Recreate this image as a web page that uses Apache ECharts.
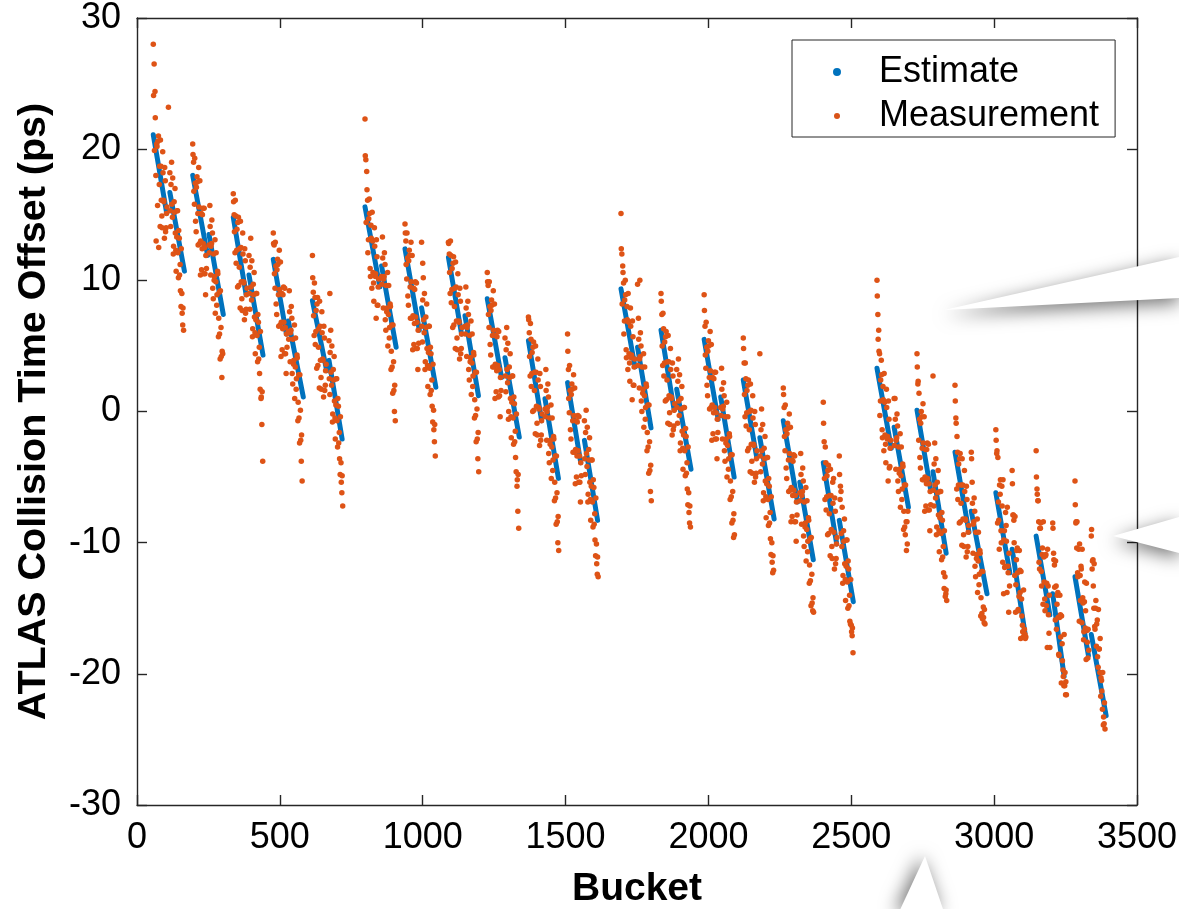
<!DOCTYPE html>
<html><head><meta charset="utf-8">
<script src="https://cdn.jsdelivr.net/npm/echarts@6/dist/echarts.min.js"></script>
<style>html,body{margin:0;padding:0;background:#fff}#c{width:1179px;height:909px}</style>
</head><body><div id="c"></div><script>
// ---- data ----
const xTicks = [0, 500, 1000, 1500, 2000, 2500, 3000, 3500];
const yTicks = [-30, -20, -10, 0, 10, 20, 30];
// Estimate: straight segments (one per batch)
const estStartBucket = [57,115,195,252,337,392,477,530,614,672, 798,856,938,996,1090,1148,1226,1288,1370,1428,1507,1566, 1694,1752,1834,1889,1985,2043,2122,2180,2262,2320,2402,2458, 2590,2650,2730,2786,2863,2920,3006,3063,3147,3205,3283,3340];
const estEndBucket   = [104,166,247,302,382,441,523,582,664,718, 850,907,988,1046,1136,1195,1276,1338,1416,1475,1553,1612, 1743,1799,1880,1939,2034,2090,2169,2230,2312,2367,2449,2507, 2640,2700,2778,2832,2912,2975,3055,3108,3195,3245,3330,3392];
const estStartPs = [21.1,16.7,18.0,13.5,14.8,10.4,11.6,6.9,8.45,3.9, 15.6,11.1,12.4,7.9,11.75,7.3,8.6,4.1,5.4,0.97,2.2,-2.2, 9.35,4.9,6.2,1.7,5.5,1.1,2.4,-2.0,-0.7,-5.4,-3.9,-8.3, 3.3,-1.2,0.1,-4.6,-3.1,-7.6,-6.2,-10.5,-9.5,-13.9,-12.6,-17.0];
const estEndPs   = [15.1,10.7,11.9,7.4,8.9,4.3,5.9,1.1,3.1,-2.1, 9.5,4.9,6.2,1.85,5.9,1.2,2.6,-1.95,-0.7,-5.1,-3.9,-8.3, 3.4,-1.25,0.1,-4.4,-0.6,-5.0,-3.5,-8.2,-6.9,-11.3,-10.1,-14.5, -2.8,-7.3,-6.0,-10.8,-9.2,-13.9,-12.3,-16.9,-15.5,-20.2,-18.6,-23.2];
// Measurement: per batch, one value every measStep buckets starting at the batch start bucket (+ offset)
const measStep = 3;
const measOffsetA = 0;
const measValuesA = [
[28.0,26.5,24.4,18.0,20.4,15.7,21.0,17.3,14.1,18.7,14.9,19.8,16.1,13.2,17.6,14.0,15.6],
[18.2,14.1,19.0,14.8,12.0,16.0,17.0,12.3,13.3,15.3,10.2,13.2,11.2,8.0,9.0,6.6,6.2],
[20.4,19.0,15.8,17.4,13.7,17.9,15.1,18.6,12.8,10.4,15.1,12.4,15.5,10.5,12.5,8.9,10.9],
[12.7,15.7,10.4,12.8,13.6,8.6,10.0,13.1,9.9,8.1,10.7,5.7,9.1,4.0,6.4,2.6,4.4],
[16.6,15.0,12.1,14.9,12.3,9.5,14.8,11.0,7.9,12.5,8.6,13.6,9.9,7.0,11.5,7.8,9.4],
[11.9,7.8,13.2,8.5,5.7,9.7,10.6,6.0,7.0,9.0,3.8,6.8,4.9,1.7,1.0,-1.0,-3.8],
[13.6,12.7,9.4,11.1,7.4,11.6,8.9,12.3,6.6,4.2,9.0,6.3,9.5,4.4,6.4,2.9,4.9],
[6.1,9.2,3.8,6.2,7.1,2.1,3.6,6.6,3.4,1.7,4.3,-0.7,2.8,-2.4,0.1,-3.8,-5.3],
[11.9,9.1,5.8,8.7,6.1,3.3,8.7,4.9,1.8,6.5,2.6,7.6,4.0,1.1,5.6,2.0,3.6],
[5.4,1.3,6.2,2.0,-0.8,3.2,4.2,-0.5,0.5,2.5,-2.7,0.4,-1.6,-4.8,-3.9,-6.2,-7.2],
[22.3,19.2,18.3,16.1,13.1,16.2,10.9,14.2,9.4,13.0,9.8,14.0,10.3,7.1,11.8,8.1,10.1],
[10.3,13.3,7.9,10.3,11.2,6.2,7.6,10.6,7.4,5.6,8.2,3.2,6.6,1.4,3.8,0.0,-0.7],
[14.3,13.0,10.1,11.7,8.1,12.3,9.5,12.9,7.1,4.7,9.4,6.7,9.9,4.8,6.8,3.2,5.2],
[12.9,5.3,10.2,6.0,3.2,7.2,8.2,3.5,4.5,6.5,1.3,4.4,2.4,-0.8,0.1,-2.3,-3.4],
[12.9,12.0,9.0,11.9,9.3,6.4,11.8,8.0,4.8,9.5,5.6,10.5,6.9,4.0,8.4,4.8,6.4],
[6.5,9.5,4.2,6.6,7.4,2.4,3.8,6.9,3.7,1.9,4.5,-0.5,3.0,-2.3,0.2,-3.6,-4.6],
[10.6,9.6,6.4,8.0,4.3,8.5,5.8,9.2,3.4,1.0,5.8,3.1,6.2,1.1,3.2,-0.4,1.6],
[5.6,1.5,6.4,2.2,-0.6,3.4,4.4,-0.4,0.7,2.7,-2.5,0.6,-1.5,-4.6,-5.7,-7.6,-8.9],
[7.2,6.0,2.7,5.5,2.9,0.0,5.3,1.6,-1.7,3.0,-0.9,4.0,0.3,-2.6,1.9,-1.8,-0.2],
[0.2,3.2,-2.2,0.3,1.1,-3.9,-2.5,0.5,-2.7,-4.5,-1.9,-6.8,-3.4,-8.6,-6.2,-10.0,-10.6],
[5.9,3.2,-0.1,1.6,-2.1,2.1,-0.7,2.8,-3.1,-5.5,-0.7,-3.4,-0.3,-5.4,-3.4,-6.9,-4.9],
[-0.7,-4.8,0.1,-4.2,-6.9,-2.9,-2.0,-6.7,-5.7,-3.7,-8.8,-5.8,-7.8,-11.0,-10.1,-12.4,-12.6],
[15.1,12.0,11.1,9.8,6.9,10.0,4.7,8.0,3.2,6.8,3.7,7.9,4.1,0.9,5.7,2.0,4.0],
[9.7,7.1,1.8,4.2,5.0,0.0,1.4,4.4,1.2,-0.6,2.1,-3.0,0.5,-4.7,-2.3,-6.1,-6.8],
[9.0,7.4,3.5,6.3,3.7,0.8,6.1,2.4,-0.9,3.8,-0.1,4.8,1.1,-1.8,2.7,-1.1,0.6],
[3.2,-0.9,4.0,-0.3,-3.0,1.0,1.9,-2.8,-1.8,0.3,-4.9,-1.9,-3.9,-7.1,-6.2,-8.5,-8.8],
[8.9,6.5,3.3,4.9,1.2,5.4,2.6,6.1,0.3,-2.2,2.6,-0.1,3.0,-2.1,-0.1,-3.6,-1.6],
[0.3,3.3,-2.1,0.4,1.2,-3.8,-2.4,0.7,-2.6,-4.4,-1.7,-6.7,-3.3,-8.5,-6.1,-9.6,-9.4],
[5.6,3.7,-0.4,2.5,-0.1,-3.0,2.4,-1.4,-4.6,0.1,-3.8,1.2,-2.5,-5.4,-1.0,-4.7,-3.0],
[4.4,-4.6,0.2,-4.0,-6.8,-2.8,-1.9,-6.5,-5.5,-3.5,-8.7,-5.7,-7.7,-10.9,-10.0,-12.3,-12.1],
[1.8,0.3,-3.0,-1.4,-5.1,-0.9,-3.7,-0.2,-6.0,-8.4,-3.7,-6.4,-3.3,-8.4,-6.4,-9.9,-7.9],
[-6.2,-3.2,-8.6,-6.1,-5.3,-10.3,-8.8,-5.8,-9.0,-10.7,-8.1,-13.1,-9.7,-14.8,-12.4,-15.2,-15.3],
[0.7,-2.3,-6.7,-3.9,-6.5,-9.4,-4.1,-7.8,-11.0,-6.4,-10.3,-5.4,-5.1,-12.0,-7.6,-11.2,-9.6],
[-3.4,-6.7,-6.1,-10.3,-13.1,-9.1,-8.2,-12.8,-11.8,-9.8,-15.0,-12.0,-14.0,-16.2,-16.3,-17.1,-18.4],
[10.0,7.4,6.2,4.4,0.8,3.9,-1.4,1.9,-3.0,0.7,-2.5,1.7,-2.1,-5.3,-0.6,-4.2,-2.2],
[1.0,1.0,-4.4,-2.0,-1.1,-6.1,-4.7,-1.7,-4.9,-6.7,-4.0,-9.0,-5.6,-9.4,-8.4,-8.4,-7.6],
[4.4,2.1,-2.2,-0.6,-4.3,0.0,-2.8,0.6,-5.2,-7.6,-2.9,-5.5,-2.4,-7.5,-5.5,-9.1,-7.1],
[2.7,-7.2,-2.4,-6.6,-9.4,-5.4,-4.5,-9.1,-8.1,-6.1,-11.3,-8.3,-10.3,-13.5,-12.6,-13.9,-14.4],
[2.0,-0.5,-5.9,-3.1,-5.6,-8.5,-3.2,-7.0,-10.2,-5.6,-9.4,-4.5,-8.2,-11.1,-6.7,-10.3,-8.7],
[-3.1,-5.4,-10.8,-8.4,-7.6,-12.6,-11.2,-8.2,-11.4,-13.2,-10.6,-15.6,-12.2,-15.8,-14.9,-16.1,-16.2],
[-1.4,-3.2,-8.5,-6.9,-10.5,-6.3,-9.1,-5.7,-11.5,-13.9,-9.1,-11.8,-8.7,-13.8,-11.8,-15.3,-13.3],
[-4.5,-7.9,-8.3,-12.5,-15.3,-11.3,-10.4,-15.1,-14.1,-12.1,-17.3,-14.3,-16.3,-17.2,-16.9,-17.0,-17.2],
[-3.0,-5.9,-6.8,-8.4,-12.0,-8.9,-12.2,-10.9,-14.7,-11.1,-14.3,-11.0,-14.8,-18.0,-13.3,-16.9,-18.0],
[-8.5,-10.8,-11.7,-15.9,-13.3,-14.7,-13.8,-18.5,-15.7,-15.5,-20.7,-17.7,-19.7,-20.9,-20.9,-21.6,-21.6],
[-5.3,-8.5,-10.4,-12.3,-12.5,-16.0,-12.5,-11.8,-16.1,-14.2,-17.4,-14.5,-16.5,-18.9,-16.7,-18.8,-18.2],
[-9.5,-12.0,-11.3,-15.0,-16.4,-15.0,-17.9,-15.9,-19.5,-18.1,-19.9,-21.7,-20.5,-22.7,-23.9,-23.8,-24.2]
];
const measOffsetB = 1;
const measValuesB = [
[24.1,19.9,22.4,13.0,20.2,20.6,12.5,18.7,20.7,16.1,14.0,18.2,16.0,18.6,13.7,15.1],
[15.3,17.3,15.8,17.8,12.6,15.2,13.6,10.7,15.3,12.1,13.8,10.4,9.2,12.4,7.5,7.9],
[19.6,16.8,19.3,14.5,17.1,17.5,12.7,15.6,17.6,13.0,10.8,15.0,12.8,15.5,10.5,11.9],
[12.1,14.1,12.6,14.6,9.4,12.0,10.3,7.5,12.1,8.9,10.5,7.1,5.9,9.2,4.2,4.6],
[16.0,13.7,16.1,11.3,13.9,14.4,9.6,12.4,14.5,9.9,7.7,12.0,9.8,12.4,7.5,8.9],
[9.0,11.0,9.5,11.5,6.3,8.9,7.2,4.4,9.0,5.8,7.4,4.0,2.9,6.1,1.1,1.5],
[12.8,10.5,12.9,8.2,10.8,11.2,6.5,9.3,11.4,6.8,4.7,8.9,6.8,9.4,4.4,5.9],
[5.5,7.6,6.0,8.0,2.9,5.5,3.9,1.0,5.6,2.5,4.1,0.7,-0.5,2.8,-2.2,-1.8],
[10.2,7.3,9.8,5.1,7.7,8.2,3.5,6.3,8.4,3.9,1.7,6.0,3.9,6.5,1.6,3.1],
[2.5,4.5,3.0,5.0,-0.2,2.4,0.8,-2.1,2.5,-0.7,1.0,-2.4,-3.6,-0.4,-5.4,-4.9],
[19.5,14.4,16.9,12.1,14.7,15.1,10.3,13.2,15.2,10.6,8.4,12.6,10.5,13.1,8.1,9.5],
[9.7,11.7,10.1,12.1,7.0,9.6,7.9,5.0,9.6,6.4,8.0,4.6,3.4,6.6,1.6,2.0],
[13.6,11.2,13.6,8.8,11.5,11.9,7.1,9.9,11.9,7.3,5.1,9.3,7.2,9.8,4.8,6.2],
[6.5,8.5,7.0,9.0,3.8,6.4,4.8,1.9,6.5,3.3,4.9,1.6,0.4,3.6,-1.4,-1.0],
[12.8,10.6,13.0,8.3,10.9,11.3,6.6,9.4,11.4,6.9,4.7,8.9,6.8,9.4,4.4,5.9],
[5.9,7.9,6.4,8.4,3.2,5.8,4.1,1.3,5.9,2.7,4.3,0.9,-0.3,3.0,-2.1,-1.6],
[9.9,7.4,9.9,5.1,7.7,8.1,3.4,6.2,8.2,3.6,1.5,5.7,3.5,6.1,1.2,2.6],
[2.7,4.7,3.2,5.2,0.0,2.6,1.0,-2.0,2.7,-0.5,1.1,-2.3,-3.5,-0.2,-5.2,-4.8],
[7.0,4.2,6.7,1.9,4.5,4.9,0.1,3.0,5.0,0.4,-1.8,2.4,0.2,2.9,-2.2,-0.7],
[-0.4,1.6,0.0,2.1,-3.2,-0.5,-2.2,-5.1,-0.5,-3.7,-2.1,-5.4,-6.6,-3.4,-8.4,-8.0],
[4.6,1.0,3.5,-1.4,1.3,1.7,-3.1,-0.3,1.8,-2.9,-5.0,-0.8,-3.0,-0.4,-5.4,-3.9],
[-3.6,-1.6,-3.2,-1.2,-6.3,-3.7,-5.4,-8.3,-3.7,-6.9,-5.2,-8.6,-9.8,-6.6,-11.6,-11.1],
[12.4,8.2,10.6,5.9,8.5,8.9,4.1,7.0,9.0,4.4,2.3,6.5,4.3,6.9,2.0,3.4],
[3.5,5.5,4.0,6.0,0.8,3.4,1.7,-1.2,3.4,0.3,1.9,-1.6,-2.7,0.5,-4.5,-4.1],
[8.4,5.0,7.5,2.7,5.3,5.7,0.9,3.8,5.8,1.2,-1.0,3.2,1.0,3.7,-1.4,0.1],
[0.3,2.3,0.8,2.8,-2.4,0.2,-1.5,-4.4,0.3,-3.0,-1.3,-4.7,-5.9,-2.7,-7.7,-7.2],
[7.7,4.3,6.8,2.0,4.6,5.0,0.2,3.1,5.1,0.5,-1.7,2.5,0.3,3.0,-2.1,-0.6],
[-0.3,1.7,0.2,2.2,-3.0,-0.4,-2.1,-5.0,-0.4,-3.6,-1.9,-5.3,-6.5,-3.3,-8.3,-7.8],
[4.8,1.3,3.7,-1.1,1.6,2.0,-2.8,0.0,2.1,-2.5,-4.7,-0.5,-2.6,0.0,-5.0,-3.6],
[-3.4,-1.4,-3.0,-1.0,-6.2,-3.6,-5.3,-8.1,-3.5,-6.7,-5.1,-8.5,-9.7,-6.5,-11.5,-11.0],
[1.3,-1.9,0.5,-4.3,-1.7,-1.3,-6.1,-3.2,-1.2,-5.8,-8.0,-3.8,-6.0,-3.4,-8.4,-6.9],
[-6.8,-4.8,-6.4,-4.3,-9.5,-6.9,-8.5,-11.4,-6.8,-9.9,-8.3,-11.7,-12.9,-9.6,-14.6,-14.2],
[-0.9,-5.1,-2.7,-7.5,-4.9,-4.5,-9.3,-6.4,-4.4,-9.0,-11.2,-7.0,-9.2,-6.6,-11.6,-10.1],
[-4.8,-5.7,-9.3,-7.3,-12.5,-9.9,-11.6,-14.4,-9.8,-13.0,-11.4,-14.8,-16.0,-12.8,-16.8,-16.5],
[8.8,5.5,4.6,-0.3,2.4,2.8,-2.0,0.9,2.9,-1.8,-3.9,0.3,-1.9,0.8,-4.3,-2.8],
[-2.6,-0.6,-2.2,-0.2,-5.3,-2.7,-4.4,-7.3,-2.7,-5.9,-4.2,-7.6,-8.8,-5.6,-10.6,-10.1],
[3.4,2.3,1.4,-3.5,-0.9,-0.4,-5.2,-2.4,-0.4,-5.0,-7.2,-2.9,-5.1,-2.5,-7.5,-6.1],
[-6.0,-4.0,-5.6,-3.6,-8.8,-6.2,-7.9,-10.7,-6.1,-9.3,-7.7,-11.1,-12.3,-9.1,-14.1,-13.6],
[0.8,-0.9,-1.9,-6.7,-4.0,-3.6,-8.4,-5.6,-3.6,-8.2,-10.3,-6.1,-8.3,-5.7,-10.7,-9.2],
[-3.6,-7.0,-8.6,-6.6,-11.8,-9.2,-10.9,-13.8,-9.2,-12.4,-10.8,-14.2,-15.4,-12.2,-15.7,-15.1],
[-2.2,-3.0,-3.5,-8.3,-5.6,-5.2,-10.0,-7.2,-5.2,-9.8,-11.9,-7.7,-9.9,-7.3,-12.3,-10.8],
[-5.5,-7.9,-10.0,-8.0,-13.2,-10.6,-12.3,-15.2,-10.6,-13.8,-12.2,-15.6,-16.8,-13.6,-16.6,-17.3],
[-5.0,-6.3,-6.8,-11.5,-8.9,-8.5,-13.3,-10.4,-8.4,-13.0,-15.2,-10.9,-13.1,-10.5,-15.5,-14.0],
[-8.9,-11.3,-13.4,-11.4,-16.6,-14.0,-15.7,-18.6,-14.0,-17.2,-15.6,-19.0,-20.2,-17.0,-19.9,-20.6],
[-7.1,-8.4,-8.4,-12.6,-10.5,-10.1,-14.4,-12.0,-10.5,-14.6,-16.8,-13.0,-15.2,-13.1,-17.6,-16.6],
[-9.0,-11.4,-13.3,-11.6,-16.6,-14.4,-16.2,-18.7,-15.1,-18.1,-17.3,-20.3,-21.3,-19.9,-23.3,-22.2]
];
const extraMeasBucket = [110, 675, 1000, 1760];
const extraMeasPs = [23.2, 9.0, 11.3, 10.0];

// ---- build ----
const FONT = "'Liberation Sans', Arial, Helvetica, sans-serif";
const AX = '#262626';
const estimateLines = estStartBucket.map((b, i) => ({coords: [[b, estStartPs[i]], [estEndBucket[i], estEndPs[i]]]}));
const measurementPoints = [];
measValuesA.forEach((vals, s) => vals.forEach((v, i) => measurementPoints.push([estStartBucket[s] + measOffsetA + measStep * i, v])));
measValuesB.forEach((vals, s) => vals.forEach((v, i) => measurementPoints.push([estStartBucket[s] + measOffsetB + measStep * i, v])));
extraMeasBucket.forEach((b, i) => measurementPoints.push([b, extraMeasPs[i]]));

const xMin = xTicks[0], xMax = xTicks[xTicks.length - 1], xInt = xTicks[1] - xTicks[0];
const yMin = yTicks[0], yMax = yTicks[yTicks.length - 1], yInt = yTicks[1] - yTicks[0];

function axisBase(extra) {
  return Object.assign({
    type: 'value',
    axisLine: {show: true, onZero: false, lineStyle: {color: AX, width: 1.4}},
    axisTick: {show: true, inside: true, length: 10, lineStyle: {color: AX, width: 1.4}},
    splitLine: {show: false}
  }, extra);
}

const chart = echarts.init(document.getElementById('c'), null, {renderer: 'canvas'});
chart.setOption({
  animation: false,
  backgroundColor: '#fff',
  grid: {left: 137, right: 42, top: 18, bottom: 104, containLabel: false, outerBoundsMode: 'none'},
  xAxis: [
    axisBase({min: xMin, max: xMax, interval: xInt, position: 'bottom',
      axisLabel: {fontSize: 36, color: '#000', margin: 15, fontFamily: FONT, formatter: v => String(v)},
      name: 'Bucket', nameLocation: 'middle', nameGap: 65,
      nameTextStyle: {fontSize: 39, fontWeight: 'bold', color: '#000', fontFamily: FONT}}),
    axisBase({min: xMin, max: xMax, interval: xInt, position: 'top', axisLabel: {show: false}})
  ],
  yAxis: [
    axisBase({min: yMin, max: yMax, interval: yInt, position: 'left',
      axisLabel: {fontSize: 36, color: '#000', margin: 16, fontFamily: FONT, formatter: v => String(v)},
      name: 'ATLAS Collision Time Offset (ps)', nameLocation: 'middle', nameGap: 83,
      nameTextStyle: {fontSize: 39.5, fontWeight: 'bold', color: '#000', fontFamily: FONT}}),
    axisBase({min: yMin, max: yMax, interval: yInt, position: 'right', axisLabel: {show: false}})
  ],
  legend: {
    orient: 'vertical', left: 792, top: 40,
    backgroundColor: '#fff', borderColor: AX, borderWidth: 1,
    padding: [14, 16, 3, 41], itemGap: 8, itemWidth: 6, itemHeight: 6,
    textStyle: {fontSize: 36, color: '#000', fontFamily: FONT, padding: [0, 0, 0, 34]},
    data: [
      {name: 'Estimate', icon: 'circle', itemStyle: {color: '#0072BD'}},
      {name: 'Measurement', icon: 'circle', itemStyle: {color: '#D95319'}}
    ]
  },
  series: [
    {name: 'Estimate', type: 'lines', coordinateSystem: 'cartesian2d', xAxisIndex: 0, yAxisIndex: 0,
     polyline: false, silent: true, z: 2,
     lineStyle: {color: '#0072BD', width: 5, opacity: 1, cap: 'round'},
     itemStyle: {color: '#0072BD'},
     data: estimateLines},
    {name: 'Measurement', type: 'scatter', xAxisIndex: 0, yAxisIndex: 0, z: 3,
     symbol: 'circle', symbolSize: 5.5, itemStyle: {color: '#DE5316', opacity: 1},
     data: measurementPoints}
  ],
  graphic: [
    {type: 'polygon', z: 100, shape: {points: [[944, 310], [1179, 257], [1179, 298]]},
     style: {fill: '#fff', shadowBlur: 18, shadowColor: 'rgba(0,0,0,0.55)', shadowOffsetY: 5}},
    {type: 'polygon', z: 100, shape: {points: [[1113, 536], [1179, 517], [1179, 553]]},
     style: {fill: '#fff', shadowBlur: 18, shadowColor: 'rgba(0,0,0,0.55)', shadowOffsetY: 5}},
    {type: 'polygon', z: 100, shape: {points: [[925, 856], [899, 912], [944, 912]]},
     style: {fill: '#fff', shadowBlur: 18, shadowColor: 'rgba(0,0,0,0.55)', shadowOffsetX: -4}}
  ]
});
</script></body></html>
